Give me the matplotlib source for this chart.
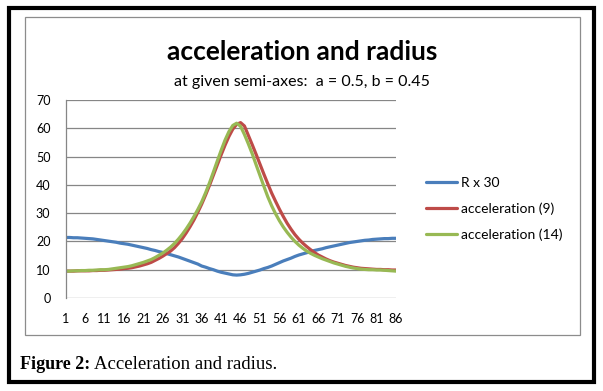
import matplotlib
matplotlib.use("Agg")
import matplotlib.pyplot as plt
from matplotlib.patches import Rectangle

W, H = 603, 391

categories = list(range(1, 87))
tick_labels = [str(v) for v in range(1, 87, 5)]

r_x30 = [21.4, 21.4, 21.3, 21.3, 21.2, 21.1, 21.0, 20.9, 20.7, 20.5,
         20.3, 20.1, 19.9, 19.7, 19.4, 19.2, 19.0, 18.7, 18.4, 18.1,
         17.8, 17.5, 17.1, 16.8, 16.4, 16.1, 15.7, 15.3, 14.9, 14.5,
         14.0, 13.5, 13.0, 12.5, 12.0, 11.3, 10.9, 10.4, 10.0, 9.5,
         9.1, 8.8, 8.5, 8.2, 8.1, 8.2, 8.4, 8.7, 9.1, 9.5,
         9.9, 10.4, 10.8, 11.3, 11.9, 12.5, 13.1, 13.6, 14.1, 14.7,
         15.2, 15.6, 16.0, 16.4, 16.8, 17.1, 17.4, 17.8, 18.1, 18.4,
         18.7, 19.0, 19.3, 19.6, 19.8, 20.0, 20.2, 20.4, 20.5, 20.7,
         20.8, 20.9, 21.0, 21.0, 21.1, 21.1]

accel_9 = [9.5, 9.5, 9.5, 9.6, 9.6, 9.6, 9.6, 9.7, 9.7, 9.8,
           9.8, 9.9, 10.0, 10.1, 10.2, 10.4, 10.5, 10.7, 11.0, 11.3,
           11.7, 12.1, 12.6, 13.3, 14.0, 14.8, 15.7, 16.6, 17.8, 19.3,
           21.0, 23.0, 25.2, 27.6, 30.3, 33.2, 36.4, 39.8, 43.4, 47.0,
           50.6, 54.0, 57.1, 59.7, 61.4, 62.0, 60.8, 57.5, 54.2, 50.8,
           47.3, 43.8, 40.4, 37.1, 34.2, 31.4, 28.8, 26.4, 24.3, 22.4,
           20.8, 19.4, 18.2, 17.1, 16.1, 15.2, 14.5, 13.8, 13.2, 12.7,
           12.3, 11.9, 11.5, 11.2, 10.9, 10.7, 10.5, 10.4, 10.3, 10.2,
           10.1, 10.1, 10.0, 10.0, 9.9, 9.9]

accel_14 = [9.5, 9.5, 9.6, 9.6, 9.7, 9.7, 9.8, 9.8, 9.9, 10.0,
            10.0, 10.1, 10.3, 10.5, 10.7, 10.9, 11.1, 11.4, 11.8, 12.2,
            12.6, 13.1, 13.6, 14.3, 15.1, 15.9, 16.9, 18.0, 19.3, 20.8,
            22.5, 24.4, 26.5, 28.8, 31.3, 34.0, 37.2, 40.7, 44.5, 48.4,
            52.2, 55.8, 58.8, 61.0, 61.8, 60.7, 57.8, 54.5, 51.0, 47.1,
            43.3, 39.5, 35.8, 32.6, 29.8, 27.3, 25.1, 23.2, 21.5, 20.0,
            18.7, 17.6, 16.6, 15.8, 15.1, 14.5, 13.9, 13.4, 12.9, 12.4,
            12.0, 11.6, 11.2, 10.9, 10.6, 10.4, 10.2, 10.1, 10.0, 10.0,
            9.9, 9.9, 9.8, 9.7, 9.6, 9.5]

series_names = ["R x 30", "acceleration (9)", "acceleration (14)"]
colors = ["#4A7EBB", "#BE4B48", "#98B954"]

FONT = "Lato"


def fx(x):
    return x / W


def fy(y):
    return 1 - y / H


fig = plt.figure(figsize=(W / 100, H / 100), dpi=100)
fig.patch.set_facecolor("white")

# outer black frame
fig.add_artist(Rectangle((fx(9), fy(382)), fx(594) - fx(9), fy(8) - fy(382),
                         transform=fig.transFigure, fill=False,
                         edgecolor="black", linewidth=3.0))
# inner chart frame
fig.add_artist(Rectangle((fx(25), fy(335)), fx(580) - fx(25), fy(17) - fy(335),
                         transform=fig.transFigure, fill=False,
                         edgecolor="#8C8C8C", linewidth=0.9))

ax = fig.add_axes([fx(65.7), fy(298), fx(396) - fx(65.7), fy(100) - fy(298)])
ax.set_facecolor("none")
for y in range(0, 80, 10):
    ax.axhline(y, color="#868686", linewidth=0.9, zorder=0)

for vals, name, c in zip([r_x30, accel_9, accel_14], series_names, colors):
    ax.plot(categories, vals, color=c, linewidth=2.3, label=name,
            solid_capstyle="round", solid_joinstyle="round")

ax.set_xlim(1, 86)
ax.set_ylim(0, 70)
ax.set_yticks(range(0, 80, 10))
ax.set_xticks(range(1, 87, 5))
ax.set_xticklabels(tick_labels)
for s in ["top", "right", "bottom"]:
    ax.spines[s].set_visible(False)
ax.spines["left"].set_color("#868686")
ax.spines["left"].set_linewidth(0.9)
ax.tick_params(axis="both", length=0, labelsize=9, labelcolor="black")
ax.tick_params(axis="y", pad=11)
ax.tick_params(axis="x", pad=11)
for lab in ax.get_xticklabels() + ax.get_yticklabels():
    lab.set_fontfamily(FONT)

fig.text(fx(302), fy(52), "acceleration and radius", ha="center", va="center",
         fontsize=19, fontweight="bold", family=FONT)
fig.text(fx(302), fy(82), "at given semi-axes:  a = 0.5, b = 0.45", ha="center",
         va="center", fontsize=11.5, family=FONT)

leg = fig.legend(loc="center left", bbox_to_anchor=(fx(426), fy(209)),
                 frameon=False, prop={"family": FONT, "size": 10},
                 handlelength=2.25, handletextpad=0.25, labelspacing=0.95,
                 borderpad=0, borderaxespad=0)

t1 = fig.text(fx(20), fy(369), "Figure 2:", ha="left", va="baseline",
              fontsize=13, fontweight="bold", family="Liberation Serif")
fig.canvas.draw()
bb = t1.get_window_extent(fig.canvas.get_renderer())
fig.text(bb.x1 / W + fx(4), fy(369), "Acceleration and radius.", ha="left",
         va="baseline", fontsize=13.5, family="Liberation Serif")

fig.savefig("out.png", dpi=100, facecolor="white")
